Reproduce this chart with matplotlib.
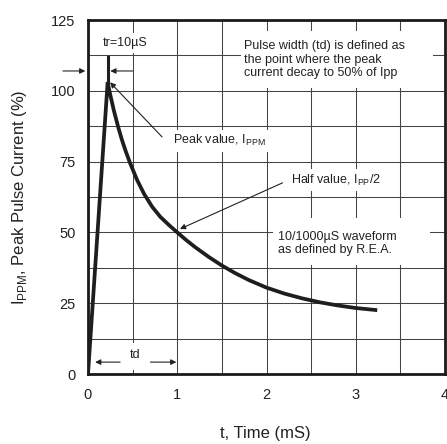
import matplotlib
matplotlib.use("Agg")
import matplotlib.pyplot as plt
from matplotlib.patches import Rectangle

plt.rcParams['font.family'] = ['Liberation Sans', 'DejaVu Sans']
plt.rcParams['mathtext.fontset'] = 'custom'
plt.rcParams['mathtext.rm'] = 'Liberation Sans'

# Data
t_ms = [0, 0.22, 0.25, 0.29, 0.34, 0.38, 0.42, 0.47, 0.55, 0.63, 0.72, 0.81,
        0.90, 1.00, 1.10, 1.20, 1.35, 1.50, 1.65, 1.80, 2.00, 2.20, 2.40,
        2.60, 2.80, 3.00, 3.22]
current_pct = [0, 103, 98.5, 93.0, 87.0, 82.7, 78.9, 74.6, 68.5, 63.5, 59.0, 55.5,
               52.8, 50.0, 47.3, 44.8, 41.4, 38.3, 35.6, 33.2, 30.5, 28.4, 26.7,
               25.3, 24.2, 23.3, 22.6]
x_ticks = [0, 1, 2, 3, 4]
y_ticks = [0, 25, 50, 75, 100, 125]
peak_t = 0.22
peak_v = 103
marker_top = 112

fig = plt.figure(figsize=(4.47, 4.44), dpi=100)
ax = fig.add_axes([88/447, 1-374/444, (445-88)/447, (374-20)/444])

ax.set_xlim(0, 4)
ax.set_ylim(0, 125)
ax.set_xticks(x_ticks)
ax.set_yticks(y_ticks)
ax.set_xticks([i*0.5 for i in range(9)], minor=True)
ax.set_yticks([i*12.5 for i in range(11)], minor=True)
ax.tick_params(which='both', length=0)
ax.tick_params(axis='x', pad=10, labelsize=10.5, colors='#222222')
ax.tick_params(axis='y', pad=9, labelsize=10.5, colors='#222222')
ax.grid(which='both', color='#444444', linewidth=0.75)
ax.set_axisbelow(True)
for s in ax.spines.values():
    s.set_linewidth(2.0)
    s.set_color('#1a1a1a')

# white boxes that mask the grid under the notes
for (x0, y0, w, h) in [(1.71, 101, 2.16, 20), (2.07, 38.5, 1.76, 16.5),
                       (0.12, 1.5, 0.83, 9.5)]:
    ax.add_patch(Rectangle((x0, y0), w, h, facecolor='white', edgecolor='none', zorder=1))

ax.plot(t_ms, current_pct, color='#1e1e1e', linewidth=2.7, zorder=3,
        solid_joinstyle='miter')
ax.plot([peak_t, peak_t], [peak_v, marker_top], color='#1e1e1e', linewidth=2.2, zorder=3)

fs = 9
ax.text(0.415, 117, 'tr=10µS', fontsize=fs, ha='center', va='center', color='#222222',
        bbox=dict(facecolor='white', edgecolor='none', pad=3), zorder=4)
ax.text(1.75, 111, 'Pulse width (td) is defined as\nthe point where the peak\ncurrent decay to 50% of Ipp',
        fontsize=fs, ha='left', va='center', color='#222222', linespacing=1.15, zorder=4)
ax.text(0.955, 82.3, r'Peak value, I$_{\mathregular{PPM}}$', fontsize=fs, ha='left', va='center',
        color='#222222', bbox=dict(facecolor='white', edgecolor='none', pad=2.5), zorder=4)
ax.text(2.27, 68.5, r'Half value, I$_{\mathregular{PP}}$/2', fontsize=fs, ha='left', va='center',
        color='#222222', bbox=dict(facecolor='white', edgecolor='none', pad=2.5), zorder=4)
ax.text(2.13, 46, '10/1000µS waveform\nas defined by R.E.A.', fontsize=fs, ha='left', va='center',
        color='#222222', linespacing=1.15, zorder=4)
ax.text(0.53, 6.7, 'td', fontsize=fs, ha='center', va='center', color='#222222', zorder=4)

arw = dict(arrowstyle='-|>', color='#222222', lw=0.8, mutation_scale=8, shrinkA=0, shrinkB=0)
ax.annotate('', xy=(-0.03, 107), xytext=(-0.28, 107), arrowprops=arw, annotation_clip=False, zorder=4)
ax.annotate('', xy=(0.25, 107), xytext=(0.5, 107), arrowprops=arw, zorder=4)
ax.annotate('', xy=(0.247, 103), xytext=(0.83, 83.7), arrowprops=arw, zorder=4)
ax.annotate('', xy=(1.03, 51.2), xytext=(2.18, 67.5), arrowprops=arw, zorder=4)
ax.annotate('', xy=(0.08, 4.2), xytext=(0.36, 4.2), arrowprops=arw, zorder=4)
ax.annotate('', xy=(0.99, 4.2), xytext=(0.70, 4.2), arrowprops=arw, zorder=4)

fig.text(20/447, 1-197/444, r'I$_{\mathregular{PPM}}$, Peak Pulse Current (%)', rotation=90,
         fontsize=12, ha='center', va='center', color='#222222')
fig.text(265/447, 1-433/444, 't, Time (mS)', fontsize=12, ha='center', va='center', color='#222222')

fig.savefig('out.png', dpi=100)
